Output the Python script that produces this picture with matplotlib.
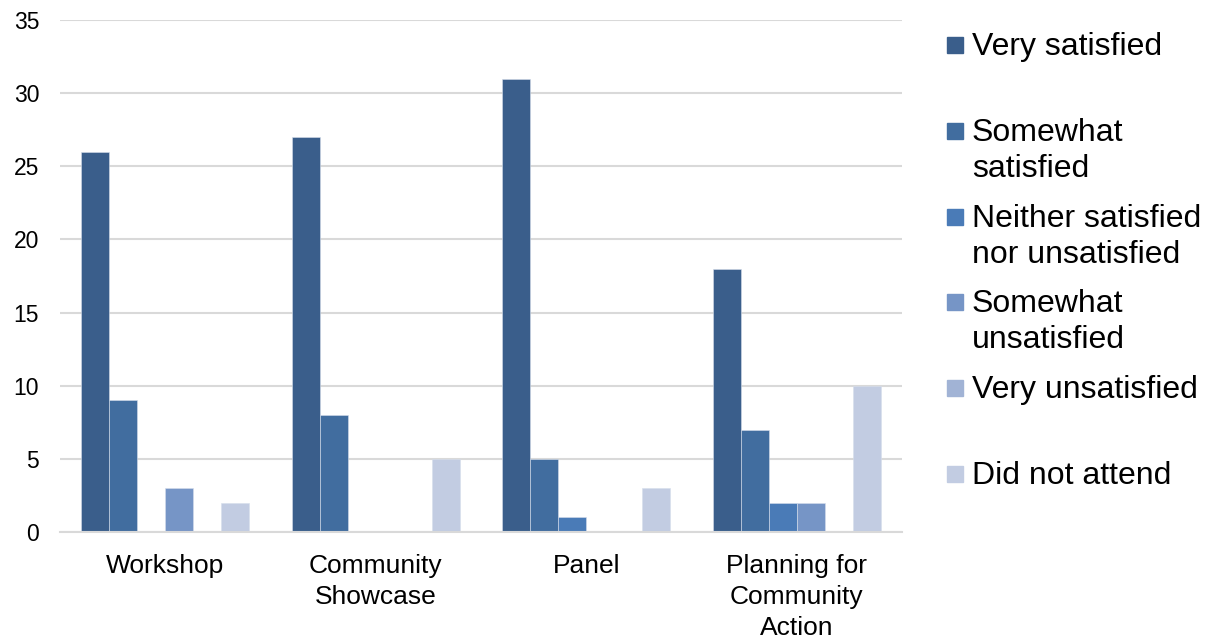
import numpy as np
import matplotlib
matplotlib.use("Agg")
import matplotlib.pyplot as plt
from matplotlib.patches import Rectangle

plt.rcParams["font.family"] = ["Liberation Sans", "DejaVu Sans"]

events = ["Workshop", "Community\nShowcase", "Panel", "Planning for\nCommunity\nAction"]
responses = ["Very satisfied", "Somewhat\nsatisfied", "Neither satisfied\nnor unsatisfied",
             "Somewhat\nunsatisfied", "Very unsatisfied", "Did not attend"]
very_satisfied = [26, 27, 31, 18]
somewhat_satisfied = [9, 8, 5, 7]
neither = [0, 0, 1, 2]
somewhat_unsatisfied = [3, 0, 0, 2]
very_unsatisfied = [0, 0, 0, 0]
did_not_attend = [2, 5, 3, 10]

series = [very_satisfied, somewhat_satisfied, neither,
          somewhat_unsatisfied, very_unsatisfied, did_not_attend]
colors = ["#3A5E8B", "#416D9F", "#4A7BB7", "#7695C6", "#A1B3D5", "#C2CCE2"]

W, H = 1208, 641
fig = plt.figure(figsize=(W / 100, H / 100), dpi=100)
ax = fig.add_axes([60 / W, 1 - 532 / H, (902 - 60) / W, (532 - 20) / H])

x = np.arange(len(events))
bw = 0.8 / len(series)
for i, (vals, c) in enumerate(zip(series, colors)):
    ax.bar(x - 0.4 + bw * (i + 0.5), vals, width=bw, color=c,
           edgecolor="#D6DEEB", linewidth=0.4)

ax.set_xlim(-0.5, len(events) - 0.5)
ax.set_ylim(0, 35)
ax.set_yticks(range(0, 36, 5))
ax.set_xticks(x)
ax.set_xticklabels(events, fontsize=19, linespacing=1.37, va="top")
ax.tick_params(axis="y", length=0, pad=15, labelsize=16.5)
ax.tick_params(axis="x", length=0, pad=16)
ax.grid(axis="y", color="#D9D9D9", linewidth=1.5)
ax.set_axisbelow(True)
for side in ["top", "left", "right"]:
    ax.spines[side].set_visible(False)
ax.spines["bottom"].set_color("#D9D9D9")
ax.spines["bottom"].set_linewidth(1.5)

# legend entries placed by hand, one block per response
legend_y = [45, 131, 217, 302, 388, 474]
for label, c, yy in zip(responses, colors, legend_y):
    fig.add_artist(Rectangle((947 / W, 1 - (yy + 8) / H), 16 / W, 16 / H,
                             transform=fig.transFigure, color=c))
    fig.text(972 / W, 1 - (yy - 13) / H, label, fontsize=23, va="top",
             ha="left", linespacing=1.24)

fig.savefig("out.png", dpi=100)
